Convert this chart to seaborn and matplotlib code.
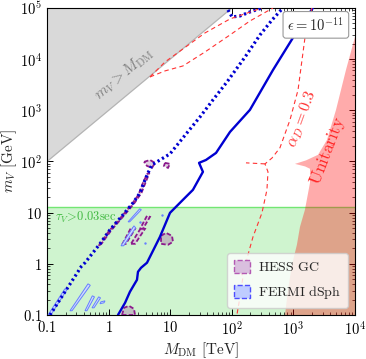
import numpy as np
import matplotlib
matplotlib.use("Agg")
import matplotlib.pyplot as plt
import seaborn as sns
from matplotlib.patches import Patch
from matplotlib.ticker import FixedLocator, LogLocator, FuncFormatter, NullFormatter

sns.set_theme(style="ticks")
plt.rcParams['font.family'] = ['DejaVu Serif']
plt.rcParams['mathtext.fontset'] = 'cm'

# ---------------- data (M_DM in TeV, m_V in GeV) ----------------
x_ticks = [0.1, 1, 10, 1e2, 1e3, 1e4]
y_ticks = [0.1, 1, 10, 1e2, 1e3, 1e4, 1e5]

# kinematic boundary m_V = M_DM
kin_mdm = [0.1, 100]
kin_mv = [100, 1e5]

# lifetime region
tau_mv_max = 13.0

# blue dotted curve
dot_mdm = [0.112, 0.196, 0.318, 0.344, 0.414, 0.724, 1.05, 1.71, 2.49, 3.24, 3.90, 4.36,
           5.07, 6.82, 9.93, 18.7, 30.5, 49.5, 83.6, 164, 287, 450, 678]
dot_mv = [0.1, 0.284, 0.698, 0.836, 1.05, 2.46, 4.61, 9.06, 15.5, 24.4, 43.8, 59.8,
          85.9, 107, 141, 362, 743, 1600, 3590, 11000, 29700, 58300, 1e5]

# short dotted arc at top
arc_mdm = [86.7, 101, 136, 197, 309]
arc_mv = [91400, 66700, 69800, 83600, 1e5]

# blue solid curve
sol_mdm = [1.42, 1.85, 2.22, 2.89, 3.00, 3.36, 4.20, 5.66, 6.82, 9.93, 16.1, 23.4, 34.0,
           29.4, 38.1, 55.5, 93.5, 197, 467, 1100, 2240]
sol_mv = [0.1, 0.173, 0.284, 0.487, 0.698, 0.836, 1.05, 2.15, 3.37, 9.91, 17.8, 27.9, 62.7,
          94.0, 107, 147, 378, 1020, 6150, 32500, 1.15e5]

# red dashed alpha_D = 0.3 curves
aD_mdm = [2000, 1540, 1380, 1190, 881, 605, 450, 346, 387, 372, 309, 221, 183, 164, 136,
          152, 136, 121]
aD_mv = [1e5, 25900, 9640, 2500, 650, 185, 117, 89.7, 62.7, 27.9, 9.91, 3.37, 1.50, 0.873,
         0.764, 0.557, 0.226, 0.1]
spur_mdm = [346, 170]
spur_mv = [89.7, 94]
b1_mdm = [4.70, 8.24, 16.1, 36.7, 93.5, 309]
b1_mv = [4490, 8810, 15800, 32500, 61000, 1e5]
b2_mdm = [4.70, 8.24, 16.1, 36.7, 93.5, 197, 467]
b2_mv = [4490, 5890, 7360, 13800, 29700, 55700, 1e5]

# unitarity boundary
uni_mdm = [1e4, 7140, 4920, 3510, 2510, 1600, 1060, 1550, 1860, 1860, 1540, 1280, 1140,
           948, 817, 731]
uni_mv = [27200, 6150, 1020, 264, 135, 105, 89.7, 80, 72, 38.2, 11.4, 5.28, 2.35,
          0.955, 0.310, 0.1]

# HESS GC contours
hess_band_mdm = [0.690, 0.990, 1.61, 2.34, 3.05, 3.66, 4.25, 4.60, 4.15, 3.42, 2.64, 1.82, 1.12, 0.765]
hess_band_mv = [2.25, 4.22, 8.28, 14.2, 22.3, 40.0, 57.3, 59.8, 43.8, 24.4, 15.5, 9.06, 4.61, 2.46]
hess_curl_mdm = [3.76, 4.70, 5.66, 5.07, 4.20]
hess_curl_mv = [98.2, 107, 94, 75, 82]
hess_dot_mdm = [8.24, 9.93, 9.20, 7.93]
hess_dot_mv = [94, 89.7, 75, 82]
hess_a_mdm = [1.65, 1.91, 2.69, 2.31]
hess_a_mv = [2.35, 2.46, 4.83, 5.05]
hess_b_mdm = [2.31, 2.69, 3.90, 3.36]
hess_b_mv = [2.46, 2.46, 4.83, 5.05]
hess_c_mdm = [3.24, 3.61, 4.70, 4.20]
hess_c_mv = [4.83, 4.83, 8.28, 8.67]
hess_g_mdm = [7.10, 8.55, 10.7, 11.1, 9.20, 7.10]
hess_g_mv = [3.52, 4.03, 3.52, 2.69, 2.35, 2.46]
hess_low_mdm = [1.65, 1.78, 2.14, 2.58, 2.69]
hess_low_mv = [0.1, 0.138, 0.151, 0.132, 0.1]

# FERMI dSph contours
f1_mdm = [0.236, 0.255, 0.505, 0.463]
f1_mv = [0.121, 0.121, 0.380, 0.406]
f2_mdm = [0.414, 0.445, 0.590, 0.545]
f2_mv = [0.121, 0.121, 0.226, 0.237]
f3_mdm = [0.538, 0.580, 0.740, 0.690]
f3_mv = [0.138, 0.138, 0.216, 0.226]
f4_mdm = [0.724, 0.841, 0.875, 0.753]
f4_mv = [0.166, 0.173, 0.189, 0.181]
f5_mdm = [1.59, 1.75, 2.75, 2.58]
f5_mv = [2.25, 2.25, 5.05, 5.52]
f6_mdm = [2.07, 2.20, 3.40, 3.20]
f6_mv = [6.61, 6.61, 11.4, 11.9]
f7_mdm = [0.104, 0.115, 0.210, 0.195]
f7_mv = [0.1, 0.1, 0.310, 0.325]
fdots_mdm = [3.90, 7.36, 3.24]
fdots_mv = [2.57, 9.06, 6.61]

# ---------------- figure ----------------
fig = plt.figure(figsize=(3.66, 3.59), dpi=100)
ax = fig.add_axes([0.1284, 0.1226, 0.8415, 0.8552])
ax.set_xscale('log')
ax.set_yscale('log')
ax.set_xlim(0.1, 1e4)
ax.set_ylim(0.1, 1e5)

# regions
ax.axhspan(0.1, tau_mv_max, color=(0.0, 0.78, 0.0), alpha=0.19, lw=0, zorder=0)
ax.axhline(tau_mv_max, color=(0.45, 0.9, 0.45), lw=1.0, zorder=1)
ax.fill_between(kin_mdm, kin_mv, 1e5, color=(0.85, 0.85, 0.85), lw=0, zorder=1)
sns.lineplot(x=kin_mdm, y=kin_mv, ax=ax, color=(0.7, 0.7, 0.7), lw=0.8, sort=False,
             estimator=None, zorder=1)
ax.fill(uni_mdm + [1e4], uni_mv + [0.1], color=(1.0, 0.0, 0.0), alpha=0.33, lw=0, zorder=2)

# HESS contours
hess_edge = (0.55, 0.1, 0.55)
for mm, vv, fc in [(hess_band_mdm, hess_band_mv, (0.86, 0.8, 0.86)),
                   (hess_curl_mdm, hess_curl_mv, (0.88, 0.82, 0.88)),
                   (hess_dot_mdm, hess_dot_mv, (0.88, 0.82, 0.88)),
                   (hess_a_mdm, hess_a_mv, (0.86, 0.8, 0.86)),
                   (hess_b_mdm, hess_b_mv, (0.86, 0.8, 0.86)),
                   (hess_c_mdm, hess_c_mv, (0.86, 0.8, 0.86)),
                   (hess_g_mdm, hess_g_mv, (0.75, 0.75, 0.75)),
                   (hess_low_mdm, hess_low_mv, (0.75, 0.75, 0.75))]:
    ax.fill(mm, vv, facecolor=fc, edgecolor=hess_edge, lw=1.3, ls=(0, (2.5, 1.2)), zorder=3)

# FERMI contours
fermi_edge = (0.4, 0.5, 1.0)
for mm, vv in [(f1_mdm, f1_mv), (f2_mdm, f2_mv), (f3_mdm, f3_mv), (f4_mdm, f4_mv),
               (f5_mdm, f5_mv), (f6_mdm, f6_mv), (f7_mdm, f7_mv)]:
    ax.fill(mm, vv, facecolor=(0.82, 0.86, 1.0), edgecolor=fermi_edge, lw=0.7, zorder=3)
ax.scatter(fdots_mdm, fdots_mv, s=3, color=fermi_edge, zorder=3, lw=0)

# blue curves
blue = (0.0, 0.0, 0.82)
sns.lineplot(x=dot_mdm, y=dot_mv, ax=ax, color=blue, lw=2.3, sort=False, estimator=None,
             linestyle=(0, (0.7, 0.9)), zorder=4)
sns.lineplot(x=arc_mdm, y=arc_mv, ax=ax, color=blue, lw=2.3, sort=False, estimator=None,
             linestyle=(0, (0.7, 0.9)), zorder=4)
sns.lineplot(x=sol_mdm, y=sol_mv, ax=ax, color=blue, lw=1.7, sort=False, estimator=None,
             zorder=4)

# red dashed
red = (1.0, 0.2, 0.2)
for mm, vv in [(aD_mdm, aD_mv), (spur_mdm, spur_mv), (b1_mdm, b1_mv), (b2_mdm, b2_mv)]:
    sns.lineplot(x=mm, y=vv, ax=ax, color=red, lw=0.8, sort=False, estimator=None,
                 linestyle=(0, (4, 3)), zorder=4)

# texts
ax.text(1.75, 5200, r"$m_V > M_{\rm DM}$", color=(0.5, 0.5, 0.5), fontsize=11,
        rotation=40, ha='center', va='center', zorder=5)
ax.text(1380, 700, r"$\alpha_D = 0.3$", color=red, fontsize=11.5, rotation=70,
        ha='center', va='center', zorder=5)
ax.text(3600, 160, r"$\rm Unitarity$", color=(1.0, 0.15, 0.15), fontsize=12.5, rotation=69,
        ha='center', va='center', zorder=5)
ax.text(0.135, 7.9, r"$\tau_V\!>\!0.03{\rm sec}$", color=(0.25, 0.72, 0.25), fontsize=9,
        ha='left', va='center', zorder=5)
ax.text(0.873, 0.945, r"$\epsilon = 10^{-11}$", transform=ax.transAxes, fontsize=10.5,
        ha='center', va='center', zorder=6,
        bbox=dict(boxstyle='round,pad=0.3,rounding_size=0.2', fc='white', ec=(0.6, 0.6, 0.6), lw=0.8))

# legend
handles = [Patch(facecolor=(0.85, 0.75, 0.87), edgecolor=(0.7, 0.35, 0.7), ls='--', lw=1.0,
                 label=r"$\rm HESS\ GC$"),
           Patch(facecolor=(0.75, 0.8, 1.0), edgecolor=(0.3, 0.3, 1.0), ls='--', lw=1.0,
                 label=r"$\rm FERMI\ dSph$")]
leg = ax.legend(handles=handles, loc='lower right', fontsize=10, framealpha=0.8,
                handlelength=1.1, handleheight=1.0, handletextpad=0.6, borderaxespad=0.5,
                labelspacing=0.7, borderpad=0.5, fancybox=True)
leg.set_zorder(7)

# axes styling
ax.xaxis.set_major_locator(FixedLocator(x_ticks))
ax.yaxis.set_major_locator(FixedLocator(y_ticks))
ax.xaxis.set_minor_locator(LogLocator(base=10, subs=np.arange(2, 10)))
ax.yaxis.set_minor_locator(LogLocator(base=10, subs=np.arange(2, 10)))

def fmt(v, pos):
    if v < 11:
        return r"$%g$" % v
    return r"$10^{%d}$" % int(round(np.log10(v)))

ax.xaxis.set_major_formatter(FuncFormatter(fmt))
ax.yaxis.set_major_formatter(FuncFormatter(fmt))
ax.xaxis.set_minor_formatter(NullFormatter())
ax.yaxis.set_minor_formatter(NullFormatter())
ax.tick_params(which='both', direction='in', top=True, right=True, colors='black',
               labelsize=10.5)
ax.tick_params(which='major', length=4, width=0.7)
ax.tick_params(which='minor', length=2, width=0.5)
for s in ax.spines.values():
    s.set_color('black')
    s.set_linewidth(0.8)

ax.set_xlabel(r"$M_{\rm DM}\ [{\rm TeV}]$", fontsize=11, labelpad=2)
ax.set_ylabel(r"$m_V\ [{\rm GeV}]$", fontsize=11, labelpad=1)

fig.savefig("out.png", dpi=100)
